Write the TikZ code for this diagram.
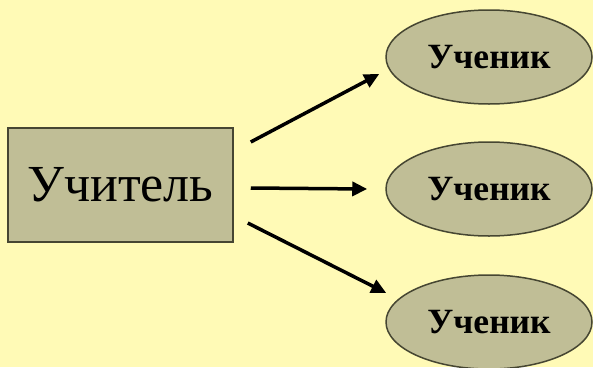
\documentclass[tikz,border=0pt]{standalone}
\usepackage{fontspec}
\setmainfont{Liberation Serif}
\usetikzlibrary{shapes.geometric,arrows.meta}
\definecolor{bg}{RGB}{255,250,182}
\definecolor{olive}{RGB}{192,190,150}
\definecolor{edge}{RGB}{70,70,50}
\tikzset{
  teacherbox/.style={draw=edge,line width=1.5pt,fill=olive,minimum width=225pt,minimum height=114pt,inner sep=0pt,font=\fontsize{52}{56}\selectfont},
  pupil/.style={ellipse,draw=edge,line width=1.5pt,fill=olive,minimum width=206pt,minimum height=94pt,inner sep=0pt,font=\bfseries\fontsize{35.5}{38}\selectfont},
  arr/.style={line width=3.5pt,-{Triangle[length=15pt,width=14pt]}}
}
\begin{document}
\begin{tikzpicture}[x=1pt,y=-1pt]
\fill[bg] (0,0) rectangle (593,367);
\useasboundingbox (0,0) rectangle (593,367);
\node[teacherbox] (t) at (120.5,185) {Учитель};
\node[pupil] (p1) at (489,57) {Ученик};
\node[pupil] (p2) at (489,189) {Ученик};
\node[pupil] (p3) at (489,322) {Ученик};
\draw[arr] ([xshift=17pt,yshift=43pt]t.east) -- ([xshift=-6pt,yshift=-17pt]p1.west);
\draw[arr] ([xshift=17pt,yshift=-3pt]t.east) -- ([xshift=-18pt]p2.west);
\draw[arr] ([xshift=14pt,yshift=-38pt]t.east) -- ([xshift=1pt,yshift=29pt]p3.west);
\end{tikzpicture}
\end{document}
